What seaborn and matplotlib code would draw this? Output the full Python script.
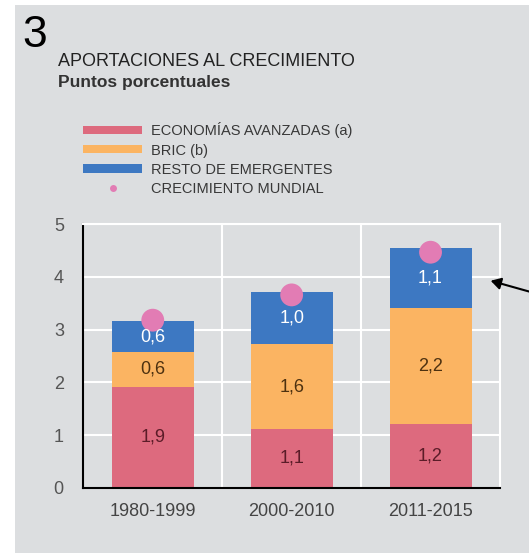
import matplotlib
matplotlib.use("Agg")
import matplotlib.pyplot as plt
from matplotlib.patches import Rectangle, Patch, FancyArrowPatch
from matplotlib.lines import Line2D
import seaborn as sns

# ---- data ----
periodos = ["1980-1999", "2000-2010", "2011-2015"]
avanzadas = [1.92, 1.11, 1.21]
bric = [0.65, 1.61, 2.21]
resto = [0.59, 0.99, 1.13]
mundial = [3.18, 3.66, 4.47]
lab_avanzadas = ["1,9", "1,1", "1,2"]
lab_bric = ["0,6", "1,6", "2,2"]
lab_resto = ["0,6", "1,0", "1,1"]
series_names = ["ECONOMÍAS AVANZADAS (a)", "BRIC (b)", "RESTO DE EMERGENTES", "CRECIMIENTO MUNDIAL"]
yticks = [0, 1, 2, 3, 4, 5]

C_RED = "#dd6a7e"
C_ORA = "#fbb462"
C_BLU = "#3d78c2"
C_PINK = "#e27cb4"
BG = "#dcdee0"

plt.rcParams["font.family"] = ["Liberation Sans", "DejaVu Sans"]

W, H = 529, 553
fig = plt.figure(figsize=(W / 100, H / 100), dpi=100)
fig.patch.set_facecolor("white")
fig.add_artist(Rectangle((15 / W, 0), 1, (H - 5) / H, transform=fig.transFigure,
                         facecolor=BG, edgecolor="none", zorder=0))

ax = fig.add_axes([83.3 / W, (H - 487.7) / H, (500 - 83.3) / W, (487.7 - 224.3) / H])
ax.set_facecolor(BG)

cum1 = avanzadas
cum2 = [a + b for a, b in zip(avanzadas, bric)]
cum3 = [a + b + c for a, b, c in zip(avanzadas, bric, resto)]

for cum, col in [(cum3, C_BLU), (cum2, C_ORA), (cum1, C_RED)]:
    sns.barplot(x=periodos, y=cum, color=col, saturation=1, width=0.59,
                errorbar=None, ax=ax, zorder=2, linewidth=0)

sns.scatterplot(x=periodos, y=mundial, color=C_PINK, s=270, edgecolor="none",
                ax=ax, zorder=5, legend=False)

# value labels
for i in range(len(periodos)):
    ax.text(i, cum1[i] / 2, lab_avanzadas[i], ha="center", va="center",
            fontsize=13, color="#5b1c28", zorder=6)
    ax.text(i, (cum1[i] + cum2[i]) / 2, lab_bric[i], ha="center", va="center",
            fontsize=13, color="#4d3110", zorder=6)
    ax.text(i, (cum2[i] + cum3[i]) / 2, lab_resto[i], ha="center", va="center",
            fontsize=13, color="white", zorder=6)

ax.set_xlim(-0.5, 2.5)
ax.set_ylim(0, 5)
ax.set_yticks(yticks)
ax.set_yticklabels([str(t) for t in yticks])
ax.set_xlabel("")
ax.set_ylabel("")
ax.set_axisbelow(True)
ax.yaxis.grid(True, color="white", lw=1.5)
ax.set_xticks([0.5, 1.5], minor=True)
ax.xaxis.grid(True, which="minor", color="white", lw=1.5)
ax.xaxis.grid(False, which="major")
ax.tick_params(axis="both", which="both", length=0)
ax.tick_params(axis="y", pad=14, labelsize=13, labelcolor="#555555")
ax.tick_params(axis="x", pad=11, labelsize=13, labelcolor="#444444")
for s in ["left", "bottom"]:
    ax.spines[s].set_color("black")
    ax.spines[s].set_linewidth(1.5)
for s in ["top", "right"]:
    ax.spines[s].set_color("white")
    ax.spines[s].set_linewidth(1.5)

# titles
fig.text(22 / W, 1 - 47 / H, "3", fontsize=32, color="black", va="baseline", ha="left")
fig.text(58 / W, 1 - 66.5 / H, "APORTACIONES AL CRECIMIENTO", fontsize=13,
         color="#222222", va="baseline", ha="left")
fig.text(58 / W, 1 - 87 / H, "Puntos porcentuales", fontsize=12.5, fontweight="bold",
         color="#333333", va="baseline", ha="left")

# legend
handles = [Patch(facecolor=C_RED, edgecolor="none"),
           Patch(facecolor=C_ORA, edgecolor="none"),
           Patch(facecolor=C_BLU, edgecolor="none"),
           Line2D([], [], marker="o", ls="", color=C_PINK, markersize=5, markeredgewidth=0)]
leg = fig.legend(handles, series_names, loc="upper left",
                 bbox_to_anchor=(82.7 / W, 1 - 122.5 / H), frameon=False,
                 fontsize=10.5, handlelength=4.1, handleheight=0.48,
                 handletextpad=0.55, labelspacing=0.35, borderpad=0, borderaxespad=0)
for t in leg.get_texts():
    t.set_color("#383838")

# arrow
fig.add_artist(FancyArrowPatch(
    posA=(545 / W, 1 - 296 / H), posB=(488 / W, 1 - 280 / H),
    transform=fig.transFigure, arrowstyle="-|>,head_length=6,head_width=3.5",
    color="black", lw=1.5, mutation_scale=1, zorder=10))

fig.savefig("out.png", dpi=100, facecolor=fig.get_facecolor())
